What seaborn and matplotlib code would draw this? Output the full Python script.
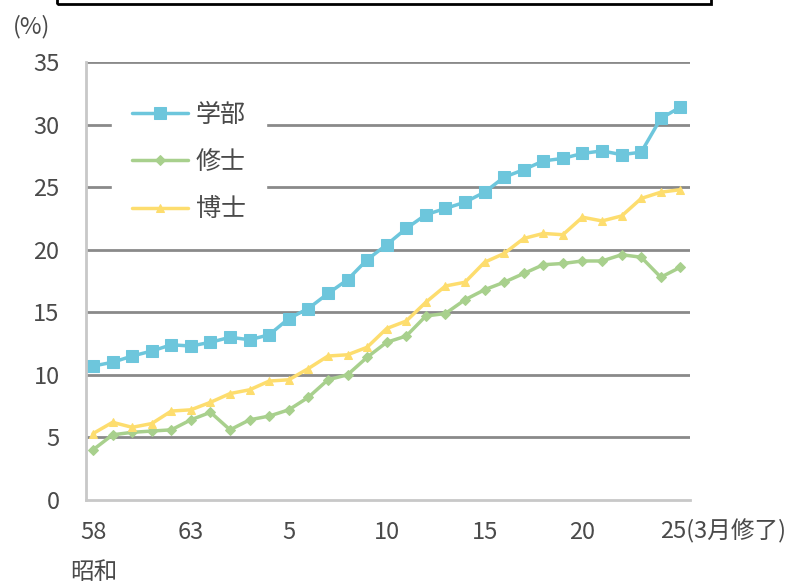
import numpy as np
import pandas as pd
import matplotlib
matplotlib.use("Agg")
import matplotlib.pyplot as plt
import seaborn as sns
from matplotlib.patches import Rectangle

# 昭和58年 ~ 平成25年 (3月修了)
years = ["58", "59", "60", "61", "62", "63",
         "1", "2", "3", "4", "5", "6", "7", "8", "9", "10",
         "11", "12", "13", "14", "15", "16", "17", "18", "19", "20",
         "21", "22", "23", "24", "25"]

gakubu = [10.7, 11.0, 11.5, 11.9, 12.4, 12.3, 12.6, 13.0, 12.8, 13.2,
          14.5, 15.3, 16.5, 17.6, 19.2, 20.4, 21.7, 22.8, 23.3, 23.8,
          24.6, 25.8, 26.4, 27.1, 27.3, 27.7, 27.9, 27.6, 27.8, 30.5, 31.4]
shushi = [4.0, 5.2, 5.4, 5.5, 5.6, 6.4, 7.0, 5.6, 6.4, 6.7,
          7.2, 8.2, 9.6, 10.0, 11.4, 12.6, 13.1, 14.7, 14.9, 16.0,
          16.8, 17.4, 18.1, 18.8, 18.9, 19.1, 19.1, 19.6, 19.4, 17.8, 18.6]
hakushi = [5.3, 6.2, 5.8, 6.1, 7.1, 7.2, 7.8, 8.5, 8.8, 9.5,
           9.6, 10.5, 11.5, 11.6, 12.2, 13.7, 14.3, 15.8, 17.1, 17.4,
           19.0, 19.7, 20.9, 21.3, 21.2, 22.6, 22.3, 22.7, 24.1, 24.6, 24.8]

tick_pos = [0, 5, 10, 15, 20, 25]
tick_lab = ["58", "63", "5", "10", "15", "20"]

sns.set_theme(style="white")
plt.rcParams['font.family'] = ['Noto Sans CJK JP', 'DejaVu Sans']

x = np.arange(len(years))
df = pd.DataFrame({"x": x, "学部": gakubu, "修士": shushi, "博士": hakushi})

fig = plt.figure(figsize=(8.11, 5.86), dpi=100)
ax = fig.add_axes([0.106, 0.147, 0.745, 0.747])

txt = "#4A4A4A"
styles = [("学部", "#6DC6DC", "s", 9), ("修士", "#A8D08D", "D", 5), ("博士", "#FDDD6E", "^", 6)]
for name, col, mk, ms in styles:
    sns.lineplot(data=df, x="x", y=name, ax=ax, color=col, marker=mk,
                 markersize=ms, markeredgecolor=col, linewidth=2.5, label=name)

ax.set_xlim(-0.36, 30.5)
ax.set_ylim(0, 35)
ax.set_yticks(range(0, 36, 5))
ax.set_xticks(tick_pos)
ax.set_xticklabels(tick_lab)
ax.set_xlabel("")
ax.set_ylabel("")
ax.tick_params(axis="both", length=0, labelsize=17, colors=txt)
ax.tick_params(axis="x", pad=15)
ax.tick_params(axis="y", pad=19)

for v in range(5, 36, 5):
    ax.axhline(v, color="#8A8A8A", lw=2, zorder=0)

for s in ["top", "right"]:
    ax.spines[s].set_visible(False)
for s in ["left", "bottom"]:
    ax.spines[s].set_color("#C8C8C8")
    ax.spines[s].set_linewidth(2)

ax.text(28.95, -0.072, "25(3月修了)", transform=ax.get_xaxis_transform(),
        ha="left", va="center", fontsize=17, color=txt)
ax.text(0.05, -0.165, "昭和", transform=ax.get_xaxis_transform(),
        ha="center", va="center", fontsize=17, color=txt)
fig.text(13 / 811, 1 - 27 / 586, "(%)", ha="left", va="center",
         fontsize=17, color=txt)

leg = ax.legend(loc="upper left", bbox_to_anchor=(0.043, 0.955), frameon=True,
                fontsize=18, handlelength=2.25, labelspacing=0.85,
                borderpad=0.8, handletextpad=0.3, borderaxespad=0)
leg.get_frame().set_facecolor("white")
leg.get_frame().set_edgecolor("white")
leg.get_frame().set_alpha(1)
leg.get_frame().set_boxstyle("square", pad=0)
for t in leg.get_texts():
    t.set_color(txt)

fig.add_artist(Rectangle((57 / 811, 1 - 4 / 586), 654 / 811, 0.2,
                         transform=fig.transFigure, fill=False,
                         edgecolor="black", lw=2, clip_on=False))

fig.savefig("out.png", dpi=100)
